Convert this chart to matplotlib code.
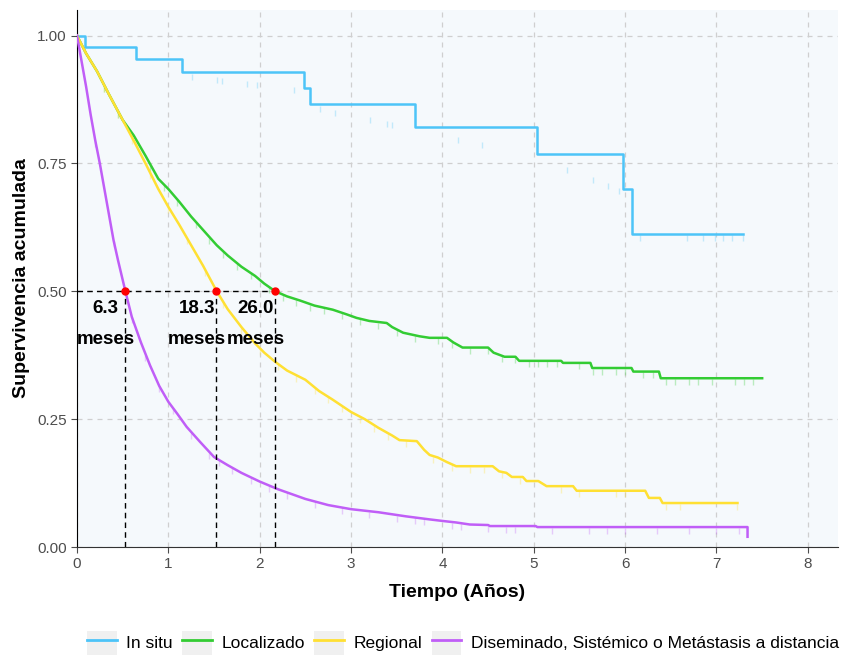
import numpy as np
import matplotlib
matplotlib.use("Agg")
import matplotlib.pyplot as plt
from matplotlib.lines import Line2D
from matplotlib.patches import Rectangle
from matplotlib.legend_handler import HandlerTuple

plt.rcParams["font.family"] = ["Liberation Sans", "DejaVu Sans"]

# curvas de supervivencia
# In situ: escalones (se dibuja con step)
insitu_t = [0, 0.09, 0.65, 1.15, 2.48, 2.55, 3.70, 5.03, 5.98, 6.07, 7.29]
insitu_s = [1.0, 0.978, 0.955, 0.929, 0.898, 0.867, 0.822, 0.769, 0.70, 0.612, 0.612]

# las demas tienen muchos escalones pequeños: se dan como poligonal
local_t = [0, 0.1, 0.22, 0.35, 0.5, 0.62, 0.75, 0.89, 1.0, 1.12, 1.25, 1.38, 1.53, 1.65,
           1.8, 1.95, 2.05, 2.17, 2.3, 2.44, 2.6, 2.8, 2.95, 3.06, 3.2, 3.39, 3.45, 3.57,
           3.75, 3.86, 4.05, 4.12, 4.22, 4.5, 4.56, 4.68, 4.8, 4.84, 5.3, 5.32, 5.62, 5.64,
           6.07, 6.09, 6.37, 6.39, 7.5]
local_s = [1.0, 0.965, 0.93, 0.885, 0.835, 0.805, 0.765, 0.72, 0.70, 0.675, 0.646, 0.62, 0.59, 0.57,
           0.548, 0.53, 0.515, 0.50, 0.49, 0.482, 0.472, 0.464, 0.455, 0.448, 0.442, 0.438, 0.43, 0.419,
           0.412, 0.409, 0.409, 0.40, 0.39, 0.39, 0.38, 0.372, 0.372, 0.364, 0.364, 0.36, 0.36, 0.35,
           0.35, 0.343, 0.343, 0.33, 0.33]

reg_t = [0, 0.1, 0.22, 0.35, 0.5, 0.62, 0.75, 0.89, 1.0, 1.12, 1.25, 1.38, 1.53, 1.65, 1.8,
         1.95, 2.05, 2.17, 2.3, 2.5, 2.65, 2.8, 3.0, 3.15, 3.3, 3.45, 3.53, 3.72, 3.8, 3.86,
         3.95, 4.05, 4.15, 4.55, 4.62, 4.7, 4.76, 4.88, 4.92, 5.05, 5.14, 5.43, 5.47, 6.22,
         6.26, 6.38, 6.41, 7.23]
reg_s = [1.0, 0.965, 0.93, 0.885, 0.835, 0.795, 0.75, 0.70, 0.665, 0.63, 0.59, 0.55, 0.50, 0.465, 0.43,
         0.398, 0.38, 0.362, 0.345, 0.327, 0.305, 0.288, 0.264, 0.25, 0.233, 0.218, 0.209, 0.207, 0.19, 0.18,
         0.175, 0.166, 0.158, 0.158, 0.148, 0.145, 0.137, 0.137, 0.129, 0.129, 0.119, 0.119, 0.11, 0.11,
         0.096, 0.096, 0.086, 0.086]

dis_t = [0, 0.05, 0.1, 0.15, 0.2, 0.25, 0.3, 0.35, 0.4, 0.45, 0.53, 0.6, 0.7, 0.8, 0.9, 1.0,
         1.1, 1.2, 1.35, 1.5, 1.65, 1.8, 2.0, 2.2, 2.5, 2.75, 3.0, 3.3, 3.6, 3.86, 4.0, 4.15,
         4.3, 4.5, 4.52, 5.02, 5.04, 7.34, 7.34]
dis_s = [1.0, 0.95, 0.9, 0.845, 0.795, 0.75, 0.70, 0.65, 0.60, 0.56, 0.50, 0.45, 0.40, 0.355, 0.315, 0.284,
         0.26, 0.235, 0.205, 0.176, 0.16, 0.145, 0.128, 0.113, 0.094, 0.082, 0.074, 0.068, 0.06, 0.054, 0.051, 0.048,
         0.044, 0.043, 0.041, 0.041, 0.039, 0.039, 0.02]

# tiempos censurados (marcas)
insitu_c = [1.26, 1.53, 1.59, 1.86, 1.97, 2.38, 2.66, 2.82, 3.21, 3.39, 3.45, 4.17, 4.43,
            5.36, 5.65, 5.81, 5.93, 6.16, 6.68, 6.85, 6.98, 7.07, 7.17, 7.29]
local_c = [0.3, 0.45, 0.6, 0.8, 0.95, 1.1, 1.3, 1.45, 1.6, 1.75, 1.9, 2.1, 2.25, 2.4, 2.55,
           2.7, 2.9, 3.1, 3.3, 3.5, 3.7, 3.95, 4.1, 4.3, 4.5, 4.65, 4.8, 4.95, 5.05, 5.15,
           5.25, 5.5, 5.65, 5.75, 5.9, 6.0, 6.2, 6.3, 6.45, 6.55, 6.7, 6.8, 6.95, 7.2, 7.3, 7.4]
reg_c = [0.3, 0.45, 0.6, 0.8, 1.0, 1.2, 1.4, 1.6, 1.8, 2.0, 2.2, 2.4, 2.6, 2.75, 2.9,
         3.1, 3.25, 3.4, 3.6, 3.9, 4.1, 4.3, 4.45, 4.65, 4.85, 5.3, 5.5, 5.9, 6.0, 6.45, 6.6, 7.23]
dis_c = [0.2, 0.4, 0.6, 0.75, 0.9, 1.05, 1.25, 1.45, 1.55, 1.7, 1.9, 2.1, 2.3, 2.6, 2.9, 3.2,
         3.5, 3.7, 3.8, 4.1, 4.2, 4.5, 4.7, 4.8, 5.2, 5.6, 5.8, 6.0, 6.35, 6.7, 7.0, 7.25]

nombres = ["In situ", "Localizado", "Regional", "Diseminado, Sistémico o Metástasis a distancia"]
colores = ["#4DC4F8", "#33CC33", "#FFE033", "#C05EF7"]
curvas = [(insitu_t, insitu_s, insitu_c), (local_t, local_s, local_c),
          (reg_t, reg_s, reg_c), (dis_t, dis_s, dis_c)]

# medianas en meses
medianas_meses = [6.3, 18.3, 26.0]

fig = plt.figure(figsize=(8.45, 6.57), dpi=100)
ax = fig.add_axes([0.0911, 0.1674, 0.9006, 0.8174])
ax.set_facecolor("#F5F9FC")

for i, ((t, s, c), col) in enumerate(zip(curvas, colores)):
    # marcas de censura sobre la curva
    yc = np.interp(c, t, s)
    ax.plot(c, yc - 0.007, ls="none", marker="|", ms=5, mew=1, color=col, alpha=0.3, zorder=2)
    if i == 0:
        ax.step(t, s, where="post", color=col, lw=1.8, zorder=3)
    else:
        ax.plot(t, s, color=col, lw=1.8, zorder=3)

# lineas de la mediana
med_x = [m / 12 for m in medianas_meses]
ax.plot([0, max(med_x)], [0.5, 0.5], ls="--", color="black", lw=1, dashes=(4, 3), zorder=4)
for m, x in zip(medianas_meses, med_x):
    ax.plot([x, x], [0, 0.5], ls="--", color="black", lw=1, dashes=(4, 3), zorder=4)
    ax.text(x - 0.21, 0.466, f"{m:.1f}", ha="center", va="center", fontsize=13.5,
            fontweight="bold", zorder=6)
    ax.text(x - 0.21, 0.405, "meses", ha="center", va="center", fontsize=13.5,
            fontweight="bold", zorder=6)
ax.plot(med_x, [0.5] * len(med_x), "o", color="red", ms=5, zorder=5)

ax.set_xlim(0, 8.33)
ax.set_ylim(0, 1.05)
ax.set_xticks(range(0, 9))
ax.set_yticks([0, 0.25, 0.5, 0.75, 1.0])
ax.set_yticklabels(["0.00", "0.25", "0.50", "0.75", "1.00"])
ax.grid(True, ls=(0, (4, 4)), color="#CFCFCF", lw=0.9, zorder=0)
ax.set_axisbelow(True)
for sp in ["top", "right"]:
    ax.spines[sp].set_visible(False)
ax.spines["left"].set_color("black")
ax.spines["bottom"].set_color("#333333")
ax.tick_params(colors="#4D4D4D", labelsize=11, length=4)
ax.set_xlabel("Tiempo (Años)", fontsize=14, fontweight="bold", labelpad=9)
ax.set_ylabel("Supervivencia acumulada", fontsize=14, fontweight="bold", labelpad=5)

handles = []
for col in colores:
    fondo = Rectangle((0, 0), 1, 1, facecolor="#F0F0F0", edgecolor="none")
    linea = Line2D([0], [0], color=col, lw=2)
    handles.append((fondo, linea))
fig.legend(handles, nombres, handler_map={tuple: HandlerTuple(ndivide=1)},
           loc="lower center", bbox_to_anchor=(0.548, -0.02), ncol=4, frameon=False,
           fontsize=12.5, handlelength=1.7, handleheight=1.7, handletextpad=0.55,
           columnspacing=0.55)

fig.savefig("out.png", dpi=100)
